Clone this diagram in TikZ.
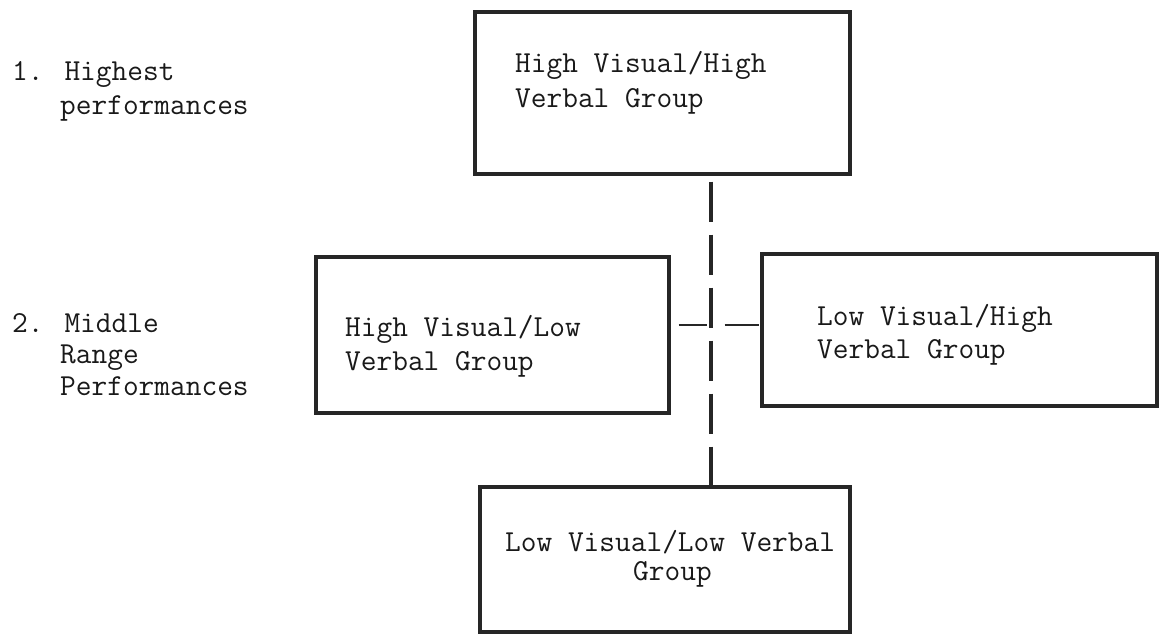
\documentclass[tikz,border=0pt]{standalone}
\usepackage{fontspec}
\begin{document}
\begin{tikzpicture}[x=1pt,y=-1pt,
  box/.style={draw=black!85, line width=3.3pt, rectangle, inner sep=0pt},
  txt/.style={anchor=base west, inner sep=0pt, font=\fontsize{30.5}{34}\selectfont\ttfamily, text=black!90},
  link/.style={draw=black!85, line width=3.3pt}]
\useasboundingbox (0,0) rectangle (1165,634);

% boxes
\node[box, minimum width=375pt, minimum height=162pt] (hh) at (662.5,93) {};
\node[box, minimum width=353pt, minimum height=156pt] (hl) at (492.5,335) {};
\node[box, minimum width=395pt, minimum height=152pt] (lh) at (959.5,330) {};
\node[box, minimum width=370pt, minimum height=145pt] (ll) at (665,559.5) {};

% box texts
\node[txt] (hht1) at (515,73) {High Visual/High};
\node[txt] (hht2) at (515,107) {Verbal Group};
\node[txt] (hlt1) at (345,336) {High Visual/Low};
\node[txt] (hlt2) at (345,370) {Verbal Group};
\node[txt] (lht1) at (817,325) {Low Visual/High};
\node[txt] (lht2) at (817,358) {Verbal Group};
\node[txt] (llt1) at (505,551) {Low Visual/Low Verbal};
\node[txt] (llt2) at (633,580) {Group};

% level labels
\node[txt] (l1a) at (12,81) {1. Highest};
\node[txt] (l1b) at (60,114) {performances};
\node[txt] (l2a) at (12,332) {2. Middle};
\node[txt] (l2b) at (60,363) {Range};
\node[txt] (l2c) at (60,395) {Performances};

% connectors
\coordinate (hc) at (711,325);
\draw[link, dash pattern=on 40pt off 13pt, dash phase=47pt] (hh.south -| hc) -- (ll.north -| hc);
\draw[link, line width=2.8pt, dash pattern=on 0pt off 8pt on 28pt off 18pt on 34pt off 20pt] (hl.east |- hc) -- (lh.west |- hc);
\end{tikzpicture}
\end{document}
